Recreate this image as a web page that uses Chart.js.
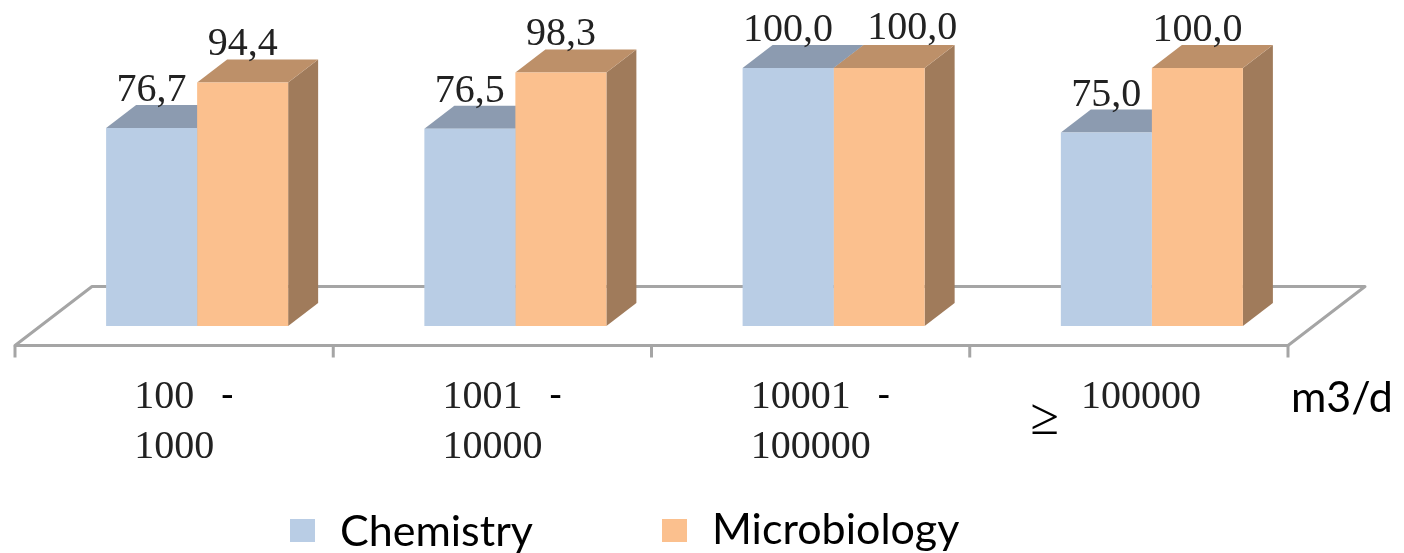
<!DOCTYPE html>
<html>
<head>
<meta charset="utf-8">
<title>Chemistry and Microbiology</title>
<script src="https://cdn.jsdelivr.net/npm/chart.js@4"></script>
<style>
  html, body { margin: 0; padding: 0; background: #fff; }
  canvas { display: block; }
</style>
</head>
<body>
<canvas id="myChart" width="1404" height="553"></canvas>
<script>
var categories = ['100 - 1000', '1001 - 10000', '10001 - 100000', '100000'];
var tickTop = ['100', '1001', '10001', '100000'];
var tickBottom = ['1000', '10000', '100000', ''];
var chemistry = [76.7, 76.5, 100.0, 75.0];
var microbiology = [94.4, 98.3, 100.0, 100.0];
var unitLabel = 'm3/d';

var depthX = 30, depthY = 23;
var serif = '"Liberation Serif", serif';
var sans = 'Lato, sans-serif';

function poly(ctx, pts, fill) {
  ctx.beginPath();
  ctx.moveTo(pts[0][0], pts[0][1]);
  for (var i = 1; i < pts.length; i++) ctx.lineTo(pts[i][0], pts[i][1]);
  ctx.closePath();
  ctx.fillStyle = fill;
  ctx.fill();
}

// floor, tick marks and the top/side faces of the bars
var floorAndFaces = {
  id: 'floorAndFaces',
  beforeDatasetsDraw: function(chart) {
    var ctx = chart.ctx, xs = chart.scales.x, a = chart.chartArea;
    var y0 = a.bottom + 19.5;
    var left = a.left - 23, right = a.right - 23;
    ctx.save();
    ctx.strokeStyle = '#a5a5a5';
    ctx.lineWidth = 3;
    ctx.lineJoin = 'round';
    ctx.beginPath();
    ctx.moveTo(left, y0);
    ctx.lineTo(left + 77, y0 - 59);
    ctx.lineTo(right + 77, y0 - 59);
    ctx.lineTo(right, y0);
    ctx.closePath();
    ctx.stroke();
    var w = (a.right - a.left) / categories.length;
    for (var i = 0; i <= categories.length; i++) {
      var tx = xs.getPixelForValue(0) - w / 2 - 23 + i * w;
      ctx.beginPath();
      ctx.moveTo(tx, y0);
      ctx.lineTo(tx, y0 + 12);
      ctx.stroke();
    }
    chart.data.datasets.forEach(function(ds, d) {
      chart.getDatasetMeta(d).data.forEach(function(bar) {
        var p = bar.getProps(['x', 'y', 'base', 'width'], true);
        var l = p.x - p.width / 2, r = p.x + p.width / 2;
        poly(ctx, [[r, p.y], [r + depthX, p.y - depthY], [r + depthX, p.base - depthY], [r, p.base]], ds.sideColor);
        poly(ctx, [[l, p.y], [r, p.y], [r + depthX, p.y - depthY], [l + depthX, p.y - depthY]], ds.topColor);
      });
    });
    ctx.restore();
  },
  afterDatasetsDraw: function(chart) {
    var ctx = chart.ctx, xs = chart.scales.x;
    ctx.save();
    ctx.textBaseline = 'alphabetic';

    // value labels
    ctx.font = '40px ' + serif;
    ctx.fillStyle = '#222';
    ctx.textAlign = 'center';
    chart.data.datasets.forEach(function(ds, d) {
      chart.getDatasetMeta(d).data.forEach(function(bar, i) {
        var shift = (d === 1 && i === 2) ? 33 : 0;
        var lift = (d === 1 && i === 2) ? 2 : 0;
        ctx.fillText(ds.data[i].toFixed(1).replace('.', ','), bar.x + shift, bar.y - 27 - lift);
      });
    });

    // category labels under the floor
    categories.forEach(function(c, i) {
      var cx = xs.getPixelForValue(i) - 23;
      ctx.font = '40px ' + serif;
      ctx.fillStyle = '#222';
      if (tickBottom[i]) {
        ctx.textAlign = 'center';
        ctx.fillText(tickBottom[i], cx, 458);
        ctx.textAlign = 'left';
        var lx = cx - ctx.measureText(tickBottom[i]).width / 2;
        ctx.fillText(tickTop[i], lx, 408);
        var dashX = lx + ctx.measureText(tickTop[i]).width + 26;
        ctx.font = '38px ' + sans;
        ctx.fillStyle = '#000';
        ctx.fillText('-', dashX, 408);
      } else {
        ctx.textAlign = 'center';
        ctx.fillText(tickTop[i], cx + 12, 408);
        ctx.font = '52px ' + serif;
        ctx.fillStyle = '#000';
        ctx.fillText('\u2265', cx - 84, 434);
      }
    });

    // unit and legend
    ctx.fillStyle = '#000';
    ctx.textAlign = 'left';
    ctx.font = '43px ' + sans;
    ctx.fillText(unitLabel, 1291, 412);
    var keyX = [290, 662], textX = [340, 712], baseY = [546, 544];
    chart.data.datasets.forEach(function(ds, d) {
      ctx.fillStyle = ds.backgroundColor;
      ctx.fillRect(keyX[d], 519, 25, 23);
      ctx.fillStyle = '#000';
      ctx.fillText(ds.label, textX[d], baseY[d]);
    });
    ctx.restore();
  }
};

var myChart = new Chart(document.getElementById('myChart'), {
  type: 'bar',
  data: {
    labels: categories,
    datasets: [{
      label: 'Chemistry',
      data: chemistry,
      backgroundColor: '#b9cde5',
      topColor: '#8c9bb0',
      sideColor: '#8c9bb0'
    }, {
      label: 'Microbiology',
      data: microbiology,
      backgroundColor: '#fbc08e',
      topColor: '#bd9069',
      sideColor: '#a07b5b'
    }]
  },
  options: {
    responsive: false,
    animation: false,
    layout: { padding: { left: 38, right: 93, top: 68, bottom: 227 } },
    categoryPercentage: 0.572,
    barPercentage: 1,
    scales: {
      x: { display: false },
      y: { display: false, min: 0, max: 100 }
    },
    plugins: { legend: { display: false }, tooltip: { enabled: false } }
  },
  plugins: [floorAndFaces]
});
</script>
</body>
</html>
